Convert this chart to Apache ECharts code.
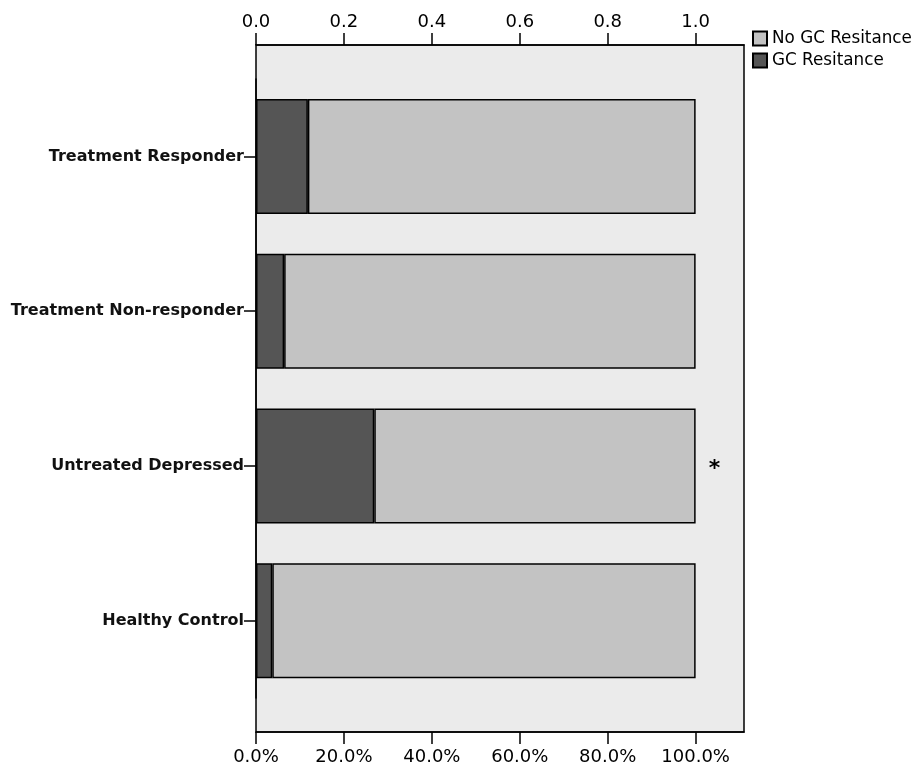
<!DOCTYPE html>
<html><head><meta charset="utf-8">
<script src="https://cdn.jsdelivr.net/npm/echarts@6/dist/echarts.min.js"></script>
<style>html,body{margin:0;padding:0;background:#fff}#c{width:915px;height:763px}</style>
</head><body><div id="c"></div>
<script>
const categories = ['Treatment Responder', 'Treatment Non-responder', 'Untreated Depressed', 'Healthy Control'];
const gcResistance = [0.118, 0.064, 0.269, 0.037];
const noGcResistance = [0.882, 0.936, 0.731, 0.963];
const annotations = ['', '', '*', ''];
const topTicks = [0, 0.2, 0.4, 0.6, 0.8, 1.0];
const seriesNames = ['No GC Resitance', 'GC Resitance'];

const FONT = 'DejaVu Sans';
const chart = echarts.init(document.getElementById('c'));
chart.setOption({
  animation: false,
  legend: {
    data: seriesNames, orient: 'vertical', left: 747, top: 25, itemGap: 5,
    itemWidth: 14, itemHeight: 14, icon: 'rect',
    textStyle: {fontFamily: FONT, fontSize: 16.8, color: '#000'}
  },
  grid: [
    {left: 256, right: 171, top: 45, bottom: 31, outerBoundsMode: 'none', containLabel: false, show: true, backgroundColor: '#ebebeb', borderColor: '#000', borderWidth: 1.5},
    {left: 256, right: 171, top: 79, bottom: 65, outerBoundsMode: 'none', containLabel: false}
  ],
  xAxis: [
    {gridIndex: 0, type: 'value', position: 'top', min: 0, max: 1.11,
     splitLine: {show: false},
     axisLine: {show: true, onZero: false, lineStyle: {color: '#000', width: 1.5}},
     axisTick: {show: true, inside: false, length: 12, customValues: topTicks, lineStyle: {color: '#000', width: 1.5}},
     axisLabel: {customValues: topTicks, formatter: v => v.toFixed(1), fontFamily: FONT, fontSize: 18, color: '#000', margin: 14}},
    {gridIndex: 0, type: 'value', position: 'bottom', min: 0, max: 1.11,
     splitLine: {show: false},
     axisLine: {show: true, onZero: false, lineStyle: {color: '#000', width: 1.5}},
     axisTick: {show: true, inside: false, length: 12, customValues: topTicks, lineStyle: {color: '#000', width: 1.5}},
     axisLabel: {customValues: topTicks, formatter: v => (v * 100).toFixed(1) + '%', fontFamily: FONT, fontSize: 18, color: '#000', margin: 16}},
    {gridIndex: 1, type: 'value', min: 0, max: 1.11, show: false}
  ],
  yAxis: [
    {gridIndex: 0, type: 'value', show: false},
    {gridIndex: 1, type: 'category', data: categories, inverse: true,
     axisLine: {show: true, onZero: false, lineStyle: {color: '#000', width: 1.5}},
     axisTick: {show: true, alignWithLabel: true, length: 12, lineStyle: {color: '#000', width: 1.5}},
     axisLabel: {fontFamily: FONT, fontSize: 16, fontWeight: 'bold', color: '#111', margin: 12}}
  ],
  series: [
    {name: 'GC Resitance', type: 'bar', stack: 's', xAxisIndex: 2, yAxisIndex: 1, data: gcResistance, barWidth: 115,
     itemStyle: {color: '#555555', borderColor: '#000', borderWidth: 1.5}},
    {name: 'No GC Resitance', type: 'bar', stack: 's', xAxisIndex: 2, yAxisIndex: 1, data: noGcResistance, barWidth: 115,
     itemStyle: {color: '#c3c3c3', borderColor: '#000', borderWidth: 1.5},
     label: {show: true, position: 'right', distance: 13, offset: [0, 3], formatter: p => annotations[p.dataIndex],
             fontFamily: FONT, fontSize: 22, fontWeight: 'bold', color: '#000'}}
  ]
});
</script></body></html>
